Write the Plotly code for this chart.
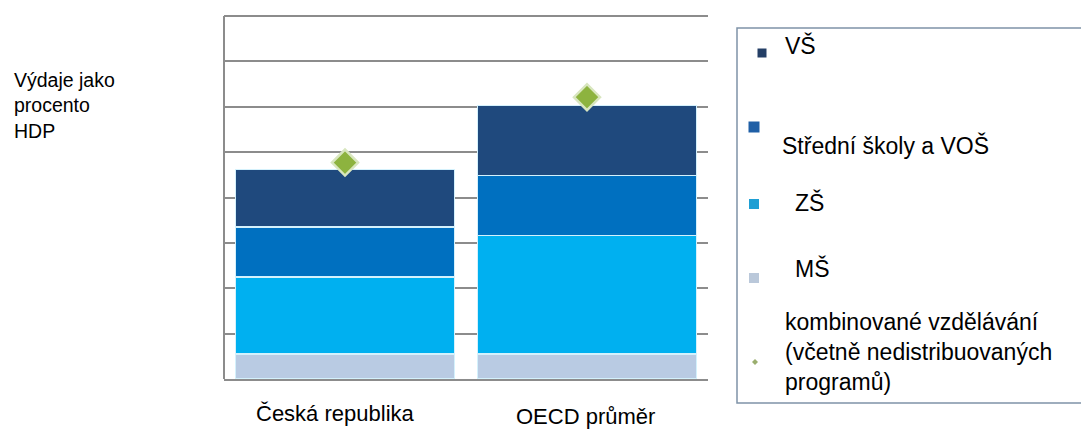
import plotly.graph_objects as go

categories = ["Česká republika", "OECD průměr"]
ms = [0.55, 0.55]
zs = [1.70, 2.61]
ss = [1.10, 1.33]
vs = [1.27, 1.54]
combined = [4.77, 6.21]

series_names = ["MŠ", "ZŠ", "Střední školy a VOŠ", "VŠ"]
series_colors = ["#b9cbe3", "#00b0f0", "#0070c0", "#1f497d"]
series_values = [ms, zs, ss, vs]
combined_name = "kombinované vzdělávání<br>(včetně nedistribuovaných<br>programů)"

y_title = "Výdaje jako<br>procento<br>HDP"

W, H = 1081, 437
L, R, T, B = 224, 708, 13, 379
Y_TOP = (B - T) / ((379 - 16) / 8.0)
FONT = "Liberation Sans, Arial, sans-serif"


def px(x):
    return (x - L) / (R - L)


def py(y):
    return (B - y) / (B - T)


fig = go.Figure()
for name, color, vals in zip(series_names, series_colors, series_values):
    fig.add_trace(go.Bar(
        x=categories, y=vals, name=name,
        marker=dict(color=color, line=dict(color="#d4f1fc", width=1.5)),
        showlegend=False,
    ))

fig.add_trace(go.Scatter(
    x=categories, y=combined, mode="markers", name="kombinované vzdělávání",
    marker=dict(symbol="diamond", size=20, color="#8db33f",
                line=dict(color="#d8e6bf", width=2.5)),
    showlegend=False,
))

fig.update_layout(
    barmode="stack",
    bargap=0.095,
    width=W, height=H,
    margin=dict(l=L, r=W - R, t=T, b=H - B, pad=0),
    paper_bgcolor="white", plot_bgcolor="white",
    font=dict(family=FONT, color="black"),
    xaxis=dict(showticklabels=False, showline=True, linecolor="#8c8c8c",
               linewidth=2, ticks="", showgrid=False, fixedrange=True),
    yaxis=dict(range=[0, Y_TOP], tick0=0, dtick=1, showticklabels=False, ticks="",
               showgrid=True, gridcolor="#8c8c8c", gridwidth=1.5,
               zeroline=False, showline=False, fixedrange=True),
)

# left axis line (only up to the top gridline)
fig.add_shape(type="line", xref="paper", yref="paper",
              x0=0, x1=0, y0=0, y1=py(16), line=dict(color="#8c8c8c", width=2))

# category labels
label_y = [413, 417]
label_shift = [-10, -2]
for c, yy, sh in zip(categories, label_y, label_shift):
    fig.add_annotation(x=c, xref="x", y=py(yy), yref="paper", text=c,
                       showarrow=False, xanchor="center", yanchor="middle",
                       xshift=sh, font=dict(size=22, family=FONT))

# y title
fig.add_annotation(x=px(12), xref="paper", y=py(106), yref="paper",
                   text=y_title, showarrow=False, xanchor="left",
                   yanchor="middle", align="left",
                   font=dict(size=19.5, family=FONT))

# legend box
fig.add_shape(type="rect", xref="paper", yref="paper",
              x0=px(737), x1=px(1095), y0=py(403), y1=py(28),
              line=dict(color="#7f93a8", width=1.5), fillcolor="rgba(0,0,0,0)")

legend_items = [
    ("VŠ", "#243f66", 762, 53, 9, 783, 46),
    ("Střední školy a VOŠ", "#1f5fa6", 754, 127, 11, 780, 146),
    ("ZŠ", "#1e9fd4", 754, 204, 10, 793, 202),
    ("MŠ", "#bac8da", 754, 278, 10, 793, 268),
]
for text, col, mx, my, s, tx, ty in legend_items:
    fig.add_shape(type="rect", xref="paper", yref="paper",
                  x0=px(mx - s / 2), x1=px(mx + s / 2),
                  y0=py(my + s / 2), y1=py(my - s / 2),
                  line=dict(width=0), fillcolor=col)
    fig.add_annotation(x=px(tx), xref="paper", y=py(ty), yref="paper",
                       text=text, showarrow=False, xanchor="left",
                       yanchor="middle", font=dict(size=23, family=FONT))

# combined legend entry
d = 3
fig.add_shape(type="path", xref="paper", yref="paper",
              path=f"M {px(755-d)} {py(362)} L {px(755)} {py(362-d)} L {px(755+d)} {py(362)} L {px(755)} {py(362+d)} Z",
              line=dict(width=0), fillcolor="#9aae6e")
fig.add_annotation(x=px(783), xref="paper", y=py(352), yref="paper",
                   text=combined_name, showarrow=False, xanchor="left",
                   yanchor="middle", align="left",
                   font=dict(size=23, family=FONT))

fig.write_html("out.html", config={"displayModeBar": False},
               post_script="document.body.style.margin='0';document.body.style.overflow='hidden';")
